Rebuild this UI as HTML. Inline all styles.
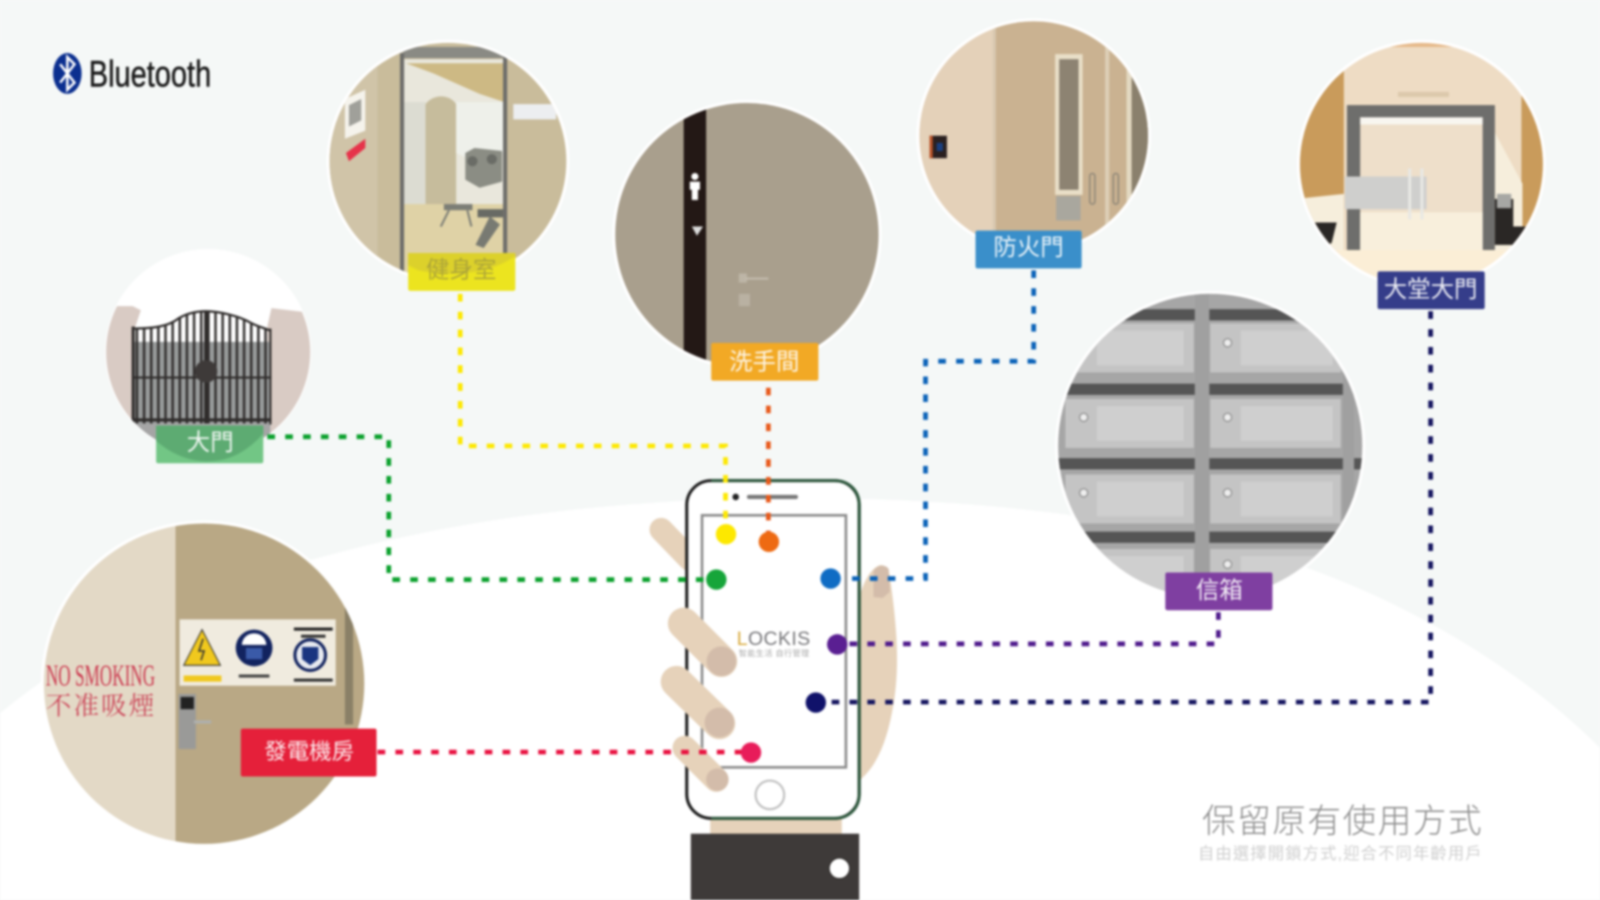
<!DOCTYPE html>
<html><head><meta charset="utf-8"><title>Bluetooth</title>
<style>
html,body{margin:0;padding:0;background:#f5f8f7;width:1600px;height:900px;overflow:hidden}
svg{display:block;filter:blur(1px)}
text{font-family:"Liberation Sans","Noto Sans CJK TC",sans-serif}
.lb{fill:#fff;font-size:23px;text-anchor:middle;opacity:.9}
.cn{fill:none;stroke-width:4.6;stroke-dasharray:7.5 10}
</style></head><body>
<svg width="1600" height="900" viewBox="0 0 1568 882" preserveAspectRatio="none" xmlns="http://www.w3.org/2000/svg">
<defs>
<clipPath id="cGate"><circle cx="204" cy="345" r="100"/></clipPath>
<clipPath id="cGym"><circle cx="439" cy="158" r="116"/></clipPath>
<clipPath id="cWash"><circle cx="732" cy="230" r="129"/></clipPath>
<clipPath id="cFire"><circle cx="1013" cy="133" r="112"/></clipPath>
<clipPath id="cLobby"><circle cx="1393" cy="161" r="119"/></clipPath>
<clipPath id="cMail"><circle cx="1186" cy="437" r="149"/></clipPath>
<clipPath id="cPower"><circle cx="200" cy="670" r="157"/></clipPath>
<pattern id="bars" width="7" height="20" patternUnits="userSpaceOnUse"><rect x="0" width="2.4" height="20" fill="#2f2c2b"/></pattern>
</defs>
<rect width="1568" height="882" fill="#f5f8f7"/>
<path d="M0 699C90 625 200 575 315 546C410 520 500 505 588 497C660 490 740 487 800 488C980 490 1140 510 1285 558C1400 600 1500 665 1568 733L1568 882L0 882Z" fill="#fff"/>

<!-- Bluetooth -->
<ellipse cx="66" cy="72" rx="14" ry="20" fill="#0b2f8f"/>
<path d="M59 63L73 81L66 88L66 56L73 63L59 81" fill="none" stroke="#fff" stroke-width="2.4"/>
<text x="87" y="85" font-size="36" fill="#1a1a1a" stroke="#1a1a1a" stroke-width=".5" textLength="120" lengthAdjust="spacingAndGlyphs">Bluetooth</text>

<!-- Gate -->
<circle cx="204" cy="345" r="101" fill="#fff"/>
<g clip-path="url(#cGate)">
<path d="M100 300H130L138 304L132 322V450H100Z" fill="#d9cbc4"/>
<path d="M266 302L300 306L308 310V450H262V320Z" fill="#d9cbc4"/>
<rect x="130" y="335" width="135" height="80" fill="#989b9b"/>
<rect x="130" y="415" width="135" height="40" fill="#a5a5a5"/>
<path d="M131 415V322C150 322 165 320 175 312C185 306 195 305 202 305C215 305 235 310 245 316C252 320 258 321 265 324V415Z" fill="url(#bars)"/>
<path d="M131 322C150 322 165 320 175 312C185 306 195 305 202 305C215 305 235 310 245 316C252 320 258 321 265 324" fill="none" stroke="#2f2c2b" stroke-width="2.2"/>
<rect x="129" y="320" width="3" height="96" fill="#2f2c2b"/>
<rect x="264" y="322" width="2" height="94" fill="#2f2c2b"/>
<rect x="200" y="305" width="5" height="110" fill="#2f2c2b"/>
<rect x="130" y="369" width="136" height="2" fill="#2f2c2b"/>
<rect x="130" y="410" width="136" height="3" fill="#2f2c2b"/>
<circle cx="202" cy="364" r="11" fill="#3e3a39"/>
</g>
<rect x="153" y="417" width="105" height="37" rx="2" fill="#72c685"/>
<path d="M153 417H258V425C240 445 222 452 204 452C185 452 168 445 153 432Z" fill="#5dab72"/>
<text x="206" y="441" class="lb">大門</text>

<!-- Gym -->
<circle cx="439" cy="158" r="119" fill="#fff"/>
<g clip-path="url(#cGym)">
<rect x="320" y="40" width="240" height="240" fill="#c9bc9b"/>
<rect x="322" y="40" width="48" height="240" fill="#d0c4a8"/>
<rect x="395" y="58" width="100" height="212" fill="#e9e7dc"/>
<path d="M398 62H494V100L470 92L425 72Z" fill="#cdb984"/>
<rect x="395" y="46" width="110" height="11" fill="#8a8a84"/>
<path d="M417 102C425 92 440 92 447 102V215C438 222 425 222 417 215Z" fill="#c6bc9c"/>
<path d="M447 100H494V150L470 160L447 150Z" fill="#eef0ea"/>
<rect x="395" y="100" width="22" height="100" fill="#dcdcd2"/>
<rect x="395" y="200" width="100" height="70" fill="#dfd2a6"/>
<path d="M456 150L465 145L492 148V178L470 184L456 176Z" fill="#8b8d84"/>
<circle cx="463" cy="158" r="5" fill="#6a6c66"/><circle cx="482" cy="156" r="5" fill="#6a6c66"/>
<rect x="435" y="200" width="28" height="6" fill="#7c7e76"/><rect x="468" y="205" width="25" height="8" fill="#686a64"/>
<path d="M480 212L466 240L474 243L490 220Z" fill="#787a72"/>
<path d="M440 206L432 222M458 206L462 222" stroke="#7c7e76" stroke-width="2"/>
<rect x="392" y="52" width="4" height="216" fill="#6d6d6a"/>
<rect x="493" y="55" width="4" height="195" fill="#6d6d6a"/>
<path d="M338 97L358 88V128L338 136Z" fill="#f5f3ec"/>
<path d="M342 103L354 97V118L342 124Z" fill="#a0a09a"/>
<path d="M339 150L358 136L358 145L342 158Z" fill="#e6334a"/>
<rect x="503" y="102" width="42" height="15" fill="#eceef0"/>
</g>
<rect x="400" y="248" width="105" height="37" rx="2" fill="#ece41f"/>
<path d="M400 248H505V251C480 268 445 272 410 265L400 260Z" fill="#dcd12b"/>
<text x="452" y="272" class="lb" style="fill:#a9a13a">健身室</text>

<!-- Wash -->
<circle cx="732" cy="230" r="132" fill="#fff"/>
<g clip-path="url(#cWash)">
<rect x="600" y="98" width="265" height="265" fill="#a99f8d"/>
<rect x="670" y="105" width="22" height="255" fill="#231815"/>
<circle cx="681" cy="173" r="3.5" fill="#fff"/><path d="M676 178H686V186H684V196H678V186H676Z" fill="#fff"/>
<path d="M678 222H689L683 231Z" fill="#ddd"/>
<rect x="724" y="268" width="8" height="9" fill="#bdb5a6"/><rect x="730" y="272" width="23" height="2" fill="#c4bcae"/>
<rect x="724" y="288" width="11" height="12" fill="#b9b1a2"/>
</g>
<rect x="697" y="336" width="105" height="37" rx="2" fill="#f2a925"/>
<text x="749" y="362" class="lb">洗手間</text>

<!-- Fire door -->
<circle cx="1013" cy="133" r="115" fill="#fff"/>
<g clip-path="url(#cFire)">
<rect x="895" y="18" width="240" height="232" fill="#e4d1b9"/>
<rect x="975" y="18" width="160" height="232" fill="#cab291"/>
<rect x="973" y="18" width="3" height="232" fill="#d8c8b0"/>
<rect x="1034" y="53" width="27" height="138" fill="#e9dfc8"/>
<rect x="1038" y="58" width="19" height="128" fill="#8d8372"/>
<rect x="1035" y="192" width="24" height="24" fill="#a9a79e"/>
<rect x="1083" y="18" width="4" height="232" fill="#ddcfb7"/>
<rect x="1104" y="18" width="5" height="232" fill="#e3d9c2"/>
<rect x="1109" y="60" width="20" height="160" fill="#8a806d"/>
<rect x="1068" y="170" width="5" height="30" rx="2.5" fill="none" stroke="#8f8778" stroke-width="1.5"/>
<rect x="1091" y="170" width="5" height="30" rx="2.5" fill="none" stroke="#8f8778" stroke-width="1.5"/>
<rect x="911" y="133" width="17" height="22" fill="#2a2020"/><rect x="911" y="133" width="3" height="22" fill="#c0562a"/><rect x="918" y="140" width="6" height="8" fill="#1a3f80"/>
</g>
<rect x="956" y="226" width="104" height="37" rx="2" fill="#3a8fca"/>
<text x="1008" y="250" class="lb">防火門</text>

<!-- Lobby -->
<circle cx="1393" cy="161" r="122" fill="#fff"/>
<g clip-path="url(#cLobby)">
<rect x="1270" y="38" width="250" height="245" fill="#eedcc4"/>
<rect x="1270" y="38" width="47" height="245" fill="#c99b5b"/>
<rect x="1491" y="38" width="30" height="245" fill="#c99b5b"/>
<path d="M1270 195L1317 190V245H1270Z" fill="#f6eedc"/>
<path d="M1465 130L1492 180V245H1465Z" fill="#f6eedc"/>
<rect x="1300" y="38" width="170" height="8" fill="#e6b98a"/>
<rect x="1320" y="103" width="145" height="142" fill="#6e6e6c"/>
<rect x="1333" y="115" width="120" height="130" fill="#eedfca"/>
<rect x="1333" y="115" width="120" height="7" fill="#f8f6f0"/>
<rect x="1333" y="208" width="120" height="37" fill="#f8efdc"/>
<rect x="1318" y="173" width="80" height="32" fill="#cfcfcd"/>
<rect x="1380" y="165" width="3" height="50" fill="#e8e8e4"/><rect x="1392" y="165" width="3" height="50" fill="#e8e8e4"/>
<rect x="1270" y="245" width="250" height="40" fill="#fbeed6"/>
<path d="M1288 218H1310L1305 238L1297 243Z" fill="#2a2725"/>
<rect x="1465" y="195" width="18" height="45" fill="#2a2725"/><rect x="1467" y="190" width="14" height="14" fill="#a7a7a4"/>
<path d="M1478 222H1498L1490 240H1482Z" fill="#2a2725"/>
<rect x="1370" y="90" width="50" height="5" fill="#dcc9ac"/>
</g>
<rect x="1350" y="266" width="105" height="37" rx="2" fill="#353d8a"/>
<text x="1402" y="291" class="lb">大堂大門</text>

<!-- Mailbox -->
<circle cx="1186" cy="437" r="152" fill="#fff"/>
<g clip-path="url(#cMail)">
<rect x="1030" y="285" width="312" height="305" fill="#a6a6a6"/>
<g fill="#c4c4c4">
<rect x="1044" y="317" width="126" height="48"/><rect x="1186" y="317" width="128" height="48"/>
<rect x="1044" y="391" width="126" height="48"/><rect x="1186" y="391" width="128" height="48"/>
<rect x="1044" y="465" width="126" height="48"/><rect x="1186" y="465" width="128" height="48"/>
<rect x="1044" y="538" width="126" height="55"/><rect x="1186" y="538" width="128" height="55"/>
</g>
<g fill="#cfcfcf">
<rect x="1075" y="324" width="85" height="34"/><rect x="1216" y="324" width="90" height="34"/>
<rect x="1075" y="398" width="85" height="34"/><rect x="1216" y="398" width="90" height="34"/>
<rect x="1075" y="472" width="85" height="34"/><rect x="1216" y="472" width="90" height="34"/>
<rect x="1075" y="545" width="85" height="34"/><rect x="1216" y="545" width="90" height="34"/>
</g>
<g fill="#555">
<rect x="1030" y="303" width="141" height="11"/><rect x="1185" y="303" width="132" height="11"/>
<rect x="1030" y="376" width="141" height="11"/><rect x="1185" y="376" width="132" height="11"/>
<rect x="1030" y="449" width="141" height="11"/><rect x="1185" y="449" width="132" height="11"/>
<rect x="1030" y="521" width="141" height="11"/><rect x="1185" y="521" width="132" height="11"/>
<rect x="1326" y="449" width="15" height="11"/><rect x="1326" y="376" width="15" height="11"/>
</g>
<rect x="1171" y="285" width="14" height="305" fill="#a0a0a0"/>
<rect x="1316" y="350" width="11" height="240" fill="#a0a0a0"/>
<g fill="#eee" stroke="#9a9a9a" stroke-width="1.5">
<circle cx="1062" cy="409" r="4"/><circle cx="1203" cy="409" r="4"/>
<circle cx="1062" cy="483" r="4"/><circle cx="1203" cy="483" r="4"/>
<circle cx="1203" cy="336" r="4"/><circle cx="1203" cy="553" r="4"/>
</g>
</g>
<rect x="1142" y="561" width="105" height="37" rx="2" fill="#7f3fa1"/>
<text x="1195" y="586" class="lb">信箱</text>

<!-- Power room -->
<circle cx="200" cy="670" r="160" fill="#fff"/>
<g clip-path="url(#cPower)">
<rect x="40" y="510" width="132" height="320" fill="#e3d9c6"/>
<rect x="172" y="510" width="190" height="320" fill="#b9a885"/>
<rect x="338" y="590" width="8" height="120" fill="#8a8067"/>
<rect x="176" y="607" width="153" height="65" fill="#f0ebdf"/>
<path d="M198 617L216 652H180Z" fill="#f0c81e" stroke="#333" stroke-width="1"/>
<path d="M199 626L195 638H200L197 647" fill="none" stroke="#333" stroke-width="1.5"/>
<rect x="180" y="662" width="37" height="6" fill="#f0c81e"/>
<circle cx="249" cy="635" r="18" fill="#12235f"/><path d="M237 632C238 617 260 617 261 632Z" fill="#fff"/><rect x="241" y="635" width="16" height="11" fill="#3a5aa8"/>
<circle cx="304" cy="642" r="15" fill="#e8eaf0" stroke="#12235f" stroke-width="3"/><path d="M296 634H312V646L304 652L296 646Z" fill="#1a3580"/>
<rect x="288" y="615" width="38" height="3" fill="#222"/><rect x="295" y="622" width="24" height="3" fill="#333"/>
<rect x="234" y="661" width="30" height="3" fill="#444"/><rect x="288" y="665" width="38" height="3" fill="#333"/>
<rect x="175" y="680" width="17" height="54" fill="#9a9a98"/>
<rect x="177" y="683" width="13" height="12" fill="#222"/>
<rect x="190" y="706" width="17" height="3" fill="#aeb0ae"/>
</g>
<text x="45" y="672" font-size="30" fill="#cc3a50" textLength="107" lengthAdjust="spacingAndGlyphs" style="font-family:'Liberation Serif',serif">NO SMOKING</text>
<text x="45" y="700" font-size="25" fill="#cc4a5c" textLength="106" style="font-family:'Liberation Serif','Noto Serif CJK SC',serif">不准吸煙</text>
<rect x="236" y="714" width="133" height="47" rx="2" fill="#e5203a"/>
<text x="303" y="744" class="lb" style="font-size:22px">發電機房</text>

<!-- Hand behind phone -->
<line x1="648" y1="519" x2="676" y2="548" stroke="#e6d2ba" stroke-width="23" stroke-linecap="round"/>
<path d="M842 585C846 572 852 558 862 554C868 553 871 558 872 565C880 620 882 660 874 699C868 730 858 752 842 765Z" fill="#e6d2ba"/>
<path d="M856 585V560C858 554 868 552 871 558L872 580L865 586Z" fill="#d3bcaa"/>
<rect x="696" y="800" width="129" height="18" fill="#e6d2ba"/>
<rect x="677" y="817" width="165" height="65" fill="#3e3a39"/>
<circle cx="822.6" cy="851" r="10" fill="#fff" stroke="#2a2725" stroke-width="1"/>

<!-- Phone -->
<rect x="673" y="471" width="169" height="331" rx="24" fill="#fff" stroke="#1c1c1c" stroke-width="3"/>
<path d="M697 471H818C832 471 842 481 842 495V778C842 792 832 802 818 802H697" fill="none" stroke="#2f5a3f" stroke-width="3"/>
<rect x="688" y="505" width="141" height="247" fill="none" stroke="#8a8a8a" stroke-width="2.5"/>
<circle cx="721" cy="487" r="3.2" fill="#222"/>
<rect x="732" y="485" width="50" height="4" rx="2" fill="#777"/>
<circle cx="754.5" cy="779" r="14" fill="#fff" stroke="#bdbdbd" stroke-width="2"/>
<text x="722" y="632" font-size="19" fill="#77777a" textLength="73" style="letter-spacing:1px"><tspan fill="#d8a93a">L</tspan>OCKIS</text>
<text x="724" y="643" font-size="8" fill="#aaa" textLength="69">智能生活 自行管理</text>

<!-- Fingers -->
<g stroke="#e6d2ba" stroke-linecap="round">
<line x1="670" y1="611" x2="707" y2="648" stroke-width="31"/>
<line x1="663" y1="668" x2="705" y2="709" stroke-width="31"/>
<line x1="671" y1="733" x2="702" y2="764" stroke-width="24"/>
</g>
<circle cx="707" cy="648" r="14.5" fill="#d3bcaa"/>
<circle cx="705" cy="708" r="14.5" fill="#d3bcaa"/>
<circle cx="703" cy="764" r="11" fill="#d3bcaa"/>

<!-- Connectors -->
<path class="cn" stroke="#0aa02c" d="M262 428H381V568H692"/>
<path class="cn" stroke="#fde800" d="M451 288V437H711V515"/>
<path class="cn" stroke="#e8591a" d="M753 380V522"/>
<path class="cn" stroke="#0a62b8" d="M1013 265V354H907V567H825"/>
<path class="cn" stroke="#4f1a8c" d="M1194 600V631H830"/>
<path class="cn" stroke="#14145f" d="M1402 305V688H810"/>
<path class="cn" stroke="#e8103f" d="M370 737H728"/>

<!-- Dots -->
<circle cx="711.5" cy="523.5" r="10" fill="#fde800"/>
<circle cx="753.5" cy="531" r="10" fill="#ee6a12"/>
<circle cx="702" cy="568" r="10" fill="#16a53a"/>
<circle cx="814" cy="567" r="10" fill="#0f6cc4"/>
<circle cx="820.5" cy="631.5" r="10" fill="#5a1f92"/>
<circle cx="799.5" cy="688.5" r="10" fill="#10126a"/>
<circle cx="736" cy="737.5" r="10" fill="#e81c5a"/>

<!-- Caption -->
<text x="1178" y="816" font-size="33" fill="#8f8f8f" textLength="274" style="font-weight:300">保留原有使用方式</text>
<text x="1174" y="842" font-size="16" fill="#cfcfcf" textLength="278">自由選擇開鎖方式,迎合不同年齡用戶</text>
</svg>
</body></html>
